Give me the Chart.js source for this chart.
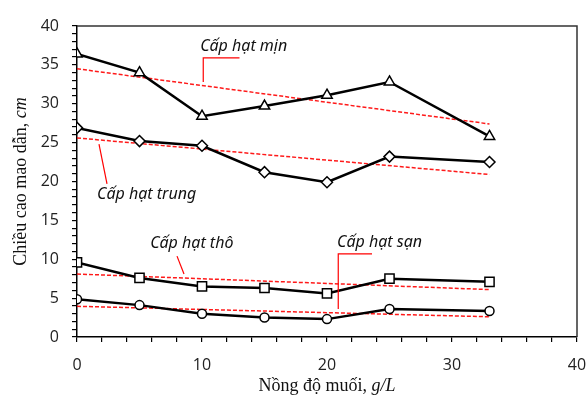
<!DOCTYPE html>
<html lang="vi">
<head>
<meta charset="UTF-8">
<title>Chiều cao mao dẫn theo nồng độ muối</title>
<script src="https://cdn.jsdelivr.net/npm/chart.js"></script>
<style>
    html, body { margin: 0; padding: 0; background: #fff; }
    #wrap { width: 588px; height: 399px; }
</style>
</head>
<body>
<div id="wrap"><canvas id="chart"></canvas></div>
<script>
    // Nồng độ muối (g/L)
    const saltConc = [0, 5, 10, 15, 20, 25, 33];

    // Chiều cao mao dẫn (cm) cho từng cấp hạt
    const fineHeight   = [36.4, 34.0, 28.4, 29.7, 31.1, 32.8, 25.8];
    const mediumHeight = [26.9, 25.2, 24.6, 21.2, 19.9, 23.2, 22.5];
    const coarseHeight = [9.6, 7.6, 6.5, 6.3, 5.6, 7.5, 7.1];
    const gravelHeight = [4.85, 4.1, 3.0, 2.5, 2.3, 3.6, 3.35];

    // Đường xu hướng (đầu, cuối)
    const trendX        = [0, 33];
    const fineTrend     = [34.5, 27.4];
    const mediumTrend   = [25.6, 20.9];
    const coarseTrend   = [8.1, 6.1];
    const gravelTrend   = [3.95, 2.6];

    const seriesNames = ['Cấp hạt mịn', 'Cấp hạt trung', 'Cấp hạt thô', 'Cấp hạt sạn'];

    const toPoints = (xs, ys) => xs.map((x, i) => ({ x: x, y: ys[i] }));

    // chú thích trên hình: vị trí chữ và đường dẫn (toạ độ dữ liệu)
    const callouts = [
        { text: seriesNames[0], x: 9.85, y: 37.4, path: [[13.0, 35.9], [10.1, 35.9], [10.1, 32.8]] },
        { text: seriesNames[1], x: 1.6, y: 18.3, path: [[1.76, 24.8], [2.4, 19.7]] },
        { text: seriesNames[2], x: 5.85, y: 12.0, path: [[8.0, 10.4], [8.56, 8.1]] },
        { text: seriesNames[3], x: 20.8, y: 12.2, path: [[23.6, 10.7], [20.9, 10.7], [20.9, 3.6]] }
    ];

    function lineSet(label, ys, style, radius) {
        return {
            label: label,
            data: toPoints(saltConc, ys),
            borderColor: '#000',
            borderWidth: 2.5,
            pointStyle: style,
            pointRadius: radius,
            pointBackgroundColor: '#fff',
            pointBorderColor: '#000',
            pointBorderWidth: 1.5,
            tension: 0,
            order: 1
        };
    }

    function trendSet(label, ys) {
        return {
            label: label,
            data: toPoints(trendX, ys),
            borderColor: 'rgba(255, 0, 0, 0.9)',
            borderWidth: 1.5,
            borderDash: [4, 2],
            pointRadius: 0,
            order: 2
        };
    }

    function drawRich(ctx, parts, cx, cy) {
        let total = 0;
        parts.forEach(p => { ctx.font = p.font; total += ctx.measureText(p.text).width; });
        let x = cx - total / 2;
        ctx.textAlign = 'left';
        ctx.textBaseline = 'middle';
        parts.forEach(p => {
            ctx.font = p.font;
            ctx.fillText(p.text, x, cy);
            x += ctx.measureText(p.text).width;
        });
    }

    const extrasPlugin = {
        id: 'extras',
        afterDraw(chart) {
            const ctx = chart.ctx;
            const a = chart.chartArea;
            const xs = chart.scales.x, ys = chart.scales.y;
            ctx.save();

            // khung
            ctx.strokeStyle = '#333';
            ctx.lineWidth = 1.5;
            ctx.beginPath();
            ctx.moveTo(a.left, a.top);
            ctx.lineTo(a.right, a.top);
            ctx.lineTo(a.right, a.bottom);
            ctx.stroke();

            // chú thích
            callouts.forEach(c => {
                ctx.strokeStyle = '#ff0000';
                ctx.lineWidth = 1.2;
                ctx.beginPath();
                c.path.forEach((p, i) => {
                    const px = xs.getPixelForValue(p[0]), py = ys.getPixelForValue(p[1]);
                    if (i === 0) ctx.moveTo(px, py); else ctx.lineTo(px, py);
                });
                ctx.stroke();
                ctx.fillStyle = '#111';
                ctx.font = 'italic 16px "Noto Sans"';
                ctx.textAlign = 'left';
                ctx.textBaseline = 'middle';
                ctx.fillText(c.text, xs.getPixelForValue(c.x), ys.getPixelForValue(c.y));
            });

            // tiêu đề trục
            ctx.fillStyle = '#111';
            drawRich(ctx, [
                { text: 'Nồng độ muối, ', font: '18px "Liberation Serif"' },
                { text: 'g/L', font: 'italic 18px "Liberation Serif"' }
            ], (a.left + a.right) / 2, 386);

            ctx.translate(21, (a.top + a.bottom) / 2);
            ctx.rotate(-Math.PI / 2);
            drawRich(ctx, [
                { text: 'Chiều cao mao dẫn, ', font: '18px "Liberation Serif"' },
                { text: 'cm', font: 'italic 18px "Liberation Serif"' }
            ], 0, 0);
            ctx.restore();
        }
    };

    const tickFont = { family: '"Open Sans"', size: 16 };

    new Chart(document.getElementById('chart').getContext('2d'), {
        type: 'line',
        data: {
            datasets: [
                lineSet(seriesNames[0], fineHeight, 'triangle', 6),
                lineSet(seriesNames[1], mediumHeight, 'rectRot', 5.5),
                lineSet(seriesNames[2], coarseHeight, 'rect', 6.5),
                lineSet(seriesNames[3], gravelHeight, 'circle', 4.5),
                trendSet('Xu hướng mịn', fineTrend),
                trendSet('Xu hướng trung', mediumTrend),
                trendSet('Xu hướng thô', coarseTrend),
                trendSet('Xu hướng sạn', gravelTrend)
            ]
        },
        options: {
            responsive: true,
            maintainAspectRatio: false,
            animation: false,
            layout: { padding: { top: 26, right: 11, left: 0, bottom: 0 } },
            plugins: {
                legend: { display: false },
                tooltip: { enabled: false }
            },
            scales: {
                x: {
                    type: 'linear',
                    min: 0,
                    max: 40,
                    ticks: {
                        stepSize: 2,
                        autoSkip: false,
                        maxRotation: 0,
                        padding: 14,
                        color: '#222',
                        font: tickFont,
                        callback: v => (v % 10 === 0 ? v : '')
                    },
                    grid: { drawOnChartArea: false, drawTicks: true, tickLength: 5, color: '#000', lineWidth: 1.2 },
                    border: { color: '#000', width: 1.5 },
                    afterFit: s => { s.height = 62; s.paddingLeft = 0; s.paddingRight = 0; }
                },
                y: {
                    min: 0,
                    max: 40,
                    ticks: {
                        stepSize: 1,
                        autoSkip: false,
                        padding: 13,
                        color: '#222',
                        font: tickFont,
                        callback: v => (v % 5 === 0 ? v : '')
                    },
                    grid: { drawOnChartArea: false, drawTicks: true, tickLength: 5, color: '#000', lineWidth: 1.2 },
                    border: { color: '#000', width: 1.5 },
                    afterFit: s => { s.width = 77; s.paddingTop = 0; s.paddingBottom = 0; }
                }
            }
        },
        plugins: [extrasPlugin]
    });
</script>
</body>
</html>
